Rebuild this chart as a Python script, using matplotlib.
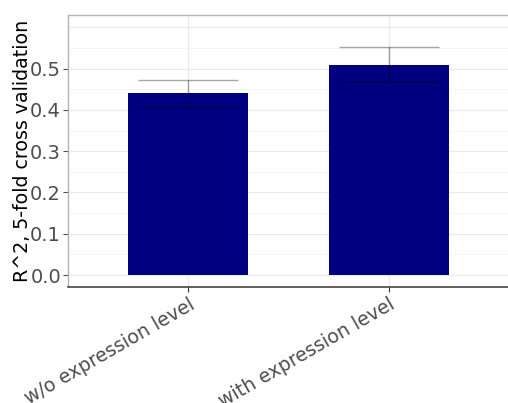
import matplotlib
matplotlib.use("Agg")
import matplotlib.pyplot as plt
import numpy as np

# Cross-validated R^2 for the two model variants
categories = ["w/o expression level", "with expression level"]
r2_mean = [0.44, 0.51]
r2_sd = [0.032, 0.042]

y_ticks = [0.0, 0.1, 0.2, 0.3, 0.4, 0.5]
y_tick_labels = ["0.0", "0.1", "0.2", "0.3", "0.4", "0.5"]

fig = plt.figure(figsize=(5.08, 4.03), dpi=100)
ax = fig.add_axes([68 / 508, 1 - 287 / 403, 441 / 508, 272 / 403])

x = np.arange(len(categories))

# grid (major + minor), drawn under the bars
for v in np.arange(0.05, 0.651, 0.1):
    ax.axhline(v, color="#f4f4f4", lw=0.6, zorder=0)
for v in np.arange(0.0, 0.651, 0.1):
    ax.axhline(v, color="#ebebeb", lw=1.0, zorder=0)
for xi in x:
    ax.axvline(xi, color="#ebebeb", lw=1.0, zorder=0)

ax.bar(x, r2_mean, width=0.6, color="#000080", zorder=2)
ax.errorbar(x, r2_mean, yerr=r2_sd, fmt="none", ecolor="black", alpha=0.35,
            elinewidth=1.0, capsize=36, capthick=1.0, zorder=3)

ax.set_xlim(-0.6, 1.6)
ax.set_ylim(-0.029, 0.63)

ax.set_yticks(y_ticks)
ax.set_yticklabels(y_tick_labels, fontsize=14, color="#4d4d4d")
ax.set_xticks(x)
ax.set_xticklabels(categories, fontsize=13.7, color="#4d4d4d", rotation=30,
                   ha="right", rotation_mode="anchor")
ax.tick_params(axis="y", length=3.5, color="#4d4d4d", width=0.8, pad=1.5)
ax.tick_params(axis="x", length=3.5, color="#333333", width=0.8, pad=2)

ax.set_ylabel("R^2, 5-fold cross validation", fontsize=13.7, color="black")
ax.yaxis.set_label_coords(-0.082, 0.5)

ax.spines["top"].set_color("#b3b3b3")
ax.spines["left"].set_color("#b3b3b3")
ax.spines["right"].set_visible(False)
ax.spines["bottom"].set_color("#444444")
ax.spines["bottom"].set_linewidth(1.2)
for s in ("top", "left"):
    ax.spines[s].set_linewidth(1.0)

fig.savefig("out.png", dpi=100)
